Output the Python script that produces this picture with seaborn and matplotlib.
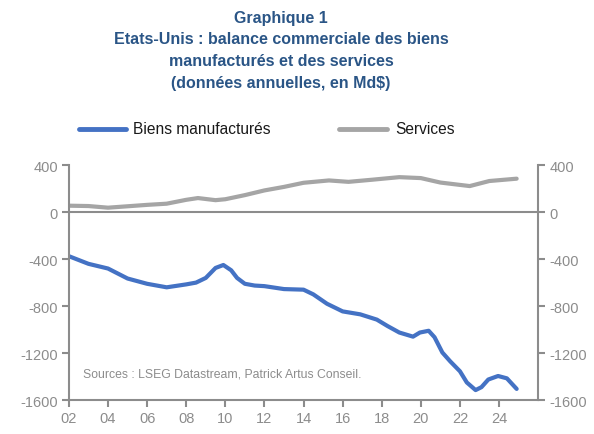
import numpy as np
import pandas as pd
import seaborn as sns
import matplotlib.pyplot as plt

sns.set_theme(style="white")
plt.rcParams['font.family'] = ['Liberation Sans Narrow', 'Liberation Sans', 'DejaVu Sans']
plt.rcParams['axes.unicode_minus'] = False

# Biens manufacturés (Md$)
biens_annee = [2002.0, 2003.0, 2004.0, 2005.0, 2006.0, 2007.0, 2008.0, 2008.5, 2009.0,
               2009.5, 2009.9, 2010.3, 2010.6, 2011.0, 2011.5, 2012.0, 2013.0, 2014.0,
               2014.5, 2015.2, 2016.0, 2016.9, 2017.75, 2018.3, 2018.9, 2019.6, 2019.95,
               2020.4, 2020.7, 2021.1, 2021.5, 2022.0, 2022.35, 2022.8, 2023.1, 2023.45,
               2023.95, 2024.4, 2024.9]
biens_valeur = [-375, -440, -480, -565, -610, -640, -615, -600, -560,
                -475, -450, -495, -560, -610, -625, -630, -655, -660,
                -700, -780, -845, -870, -915, -970, -1025, -1060, -1025,
                -1010, -1065, -1195, -1270, -1355, -1450, -1515, -1490, -1425,
                -1395, -1415, -1505]

# Services (Md$)
serv_annee = [2002.0, 2003.0, 2004.0, 2005.0, 2006.0, 2007.0, 2008.0, 2008.6, 2009.5,
              2010.0, 2011.0, 2012.0, 2013.0, 2014.0, 2015.3, 2016.3, 2017.5, 2018.9,
              2020.0, 2021.0, 2022.5, 2023.5, 2024.9]
serv_valeur = [55, 52, 38, 50, 62, 72, 105, 120, 102,
               110, 145, 185, 215, 250, 270, 258, 276, 298,
               290, 252, 222, 265, 285]

blue = "#4472C4"
grey = "#A5A5A5"
axis_grey = "#8C8C8C"
text_grey = "#8C8C8C"

df = pd.concat([
    pd.DataFrame({"annee": biens_annee, "valeur": biens_valeur, "serie": "Biens manufacturés"}),
    pd.DataFrame({"annee": serv_annee, "valeur": serv_valeur, "serie": "Services"}),
])

fig = plt.figure(figsize=(5.94, 4.35), dpi=100)
ax = fig.add_axes([0.116, 0.078, 0.79, 0.54])

sns.lineplot(data=df, x="annee", y="valeur", hue="serie",
             palette={"Biens manufacturés": blue, "Services": grey},
             linewidth=3, ax=ax, legend=False)

ax.axhline(0, color=axis_grey, linewidth=1.5, zorder=0)
ax.set_xlim(2002, 2026)
ax.set_ylim(-1600, 400)
ax.set_xticks(range(2002, 2025, 2))
ax.set_xticklabels([f"{y % 100:02d}" for y in range(2002, 2025, 2)])
ax.set_yticks(range(-1600, 401, 400))
ax.set_xlabel("")
ax.set_ylabel("")

for s in ["left", "right", "bottom"]:
    ax.spines[s].set_color(axis_grey)
    ax.spines[s].set_linewidth(1.5)
ax.spines["top"].set_visible(False)

ax.tick_params(axis="both", which="both", direction="out", length=5, width=1.5,
               color=axis_grey, labelcolor=text_grey, labelsize=10.5)
ax.tick_params(axis="y", left=True, right=True, labelleft=True, labelright=True, pad=3)
ax.tick_params(axis="x", bottom=True, pad=3)

ax.text(2002.7, -1375, "Sources : LSEG Datastream, Patrick Artus Conseil.",
        color=text_grey, fontsize=8.8, va="center")

title_color = "#2A5586"
fig.text(0.473, 0.975, "Graphique 1\nEtats-Unis : balance commerciale des biens\n"
         "manufacturés et des services\n(données annuelles, en Md$)",
         ha="center", va="top", color=title_color, fontsize=11.5,
         fontweight="bold", linespacing=1.55)

# legend
ly = 1 - 130 / 435
fig.lines.append(plt.Line2D([79 / 594, 126 / 594], [ly] * 2, color=blue,
                            linewidth=3.5, transform=fig.transFigure))
fig.text(133 / 594, ly, "Biens manufacturés", fontsize=11.2, va="center", color="#1a1a1a")
fig.lines.append(plt.Line2D([339 / 594, 387 / 594], [ly] * 2, color=grey,
                            linewidth=3.5, transform=fig.transFigure))
fig.text(395 / 594, ly, "Services", fontsize=11.2, va="center", color="#1a1a1a")

fig.savefig("out.png", dpi=100)
